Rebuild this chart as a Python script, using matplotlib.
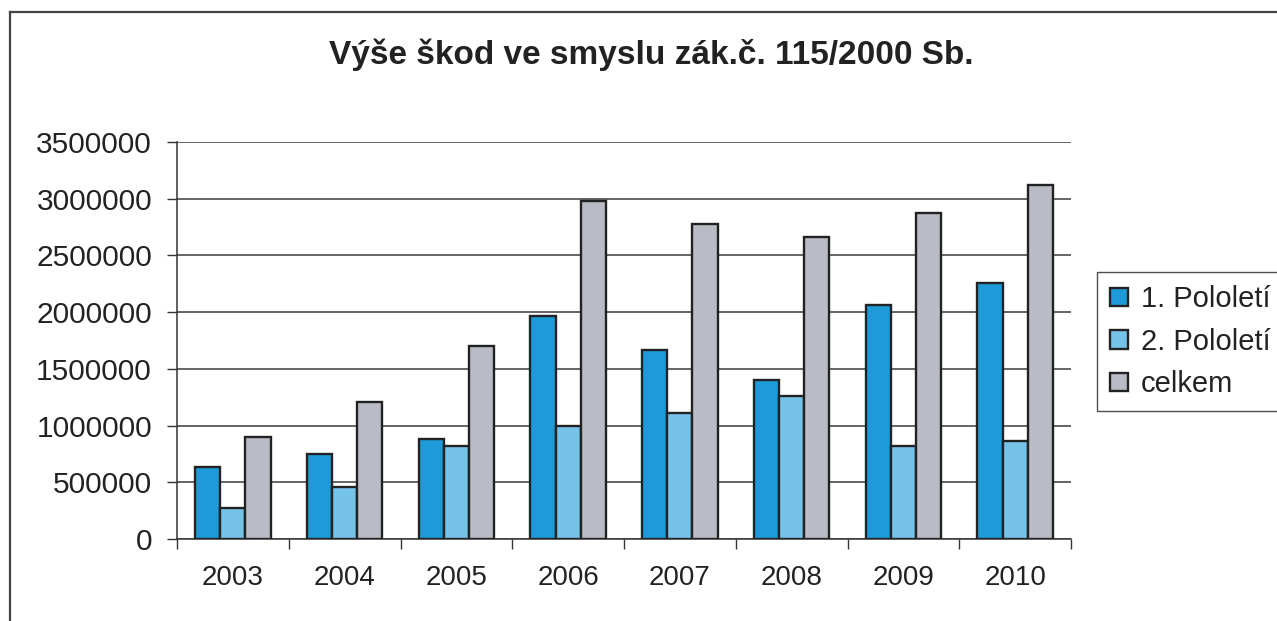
import matplotlib.pyplot as plt
import numpy as np
from matplotlib.lines import Line2D

years = ['2003', '2004', '2005', '2006', '2007', '2008', '2009', '2010']
first_half = [635000, 750000, 882000, 1969000, 1664000, 1400000, 2066000, 2257000]
second_half = [273000, 459000, 822000, 992000, 1108000, 1261000, 820000, 864000]
total = [902000, 1208000, 1705000, 2983000, 2778000, 2660000, 2872000, 3120000]
series_names = ['1. Pololetí', '2. Pololetí', 'celkem']

plt.rcParams['font.family'] = ['Liberation Sans', 'DejaVu Sans']

W, H = 1277, 621
fig = plt.figure(figsize=(W / 100, H / 100), dpi=100)
ax = fig.add_axes([177 / W, 1 - 539 / H, (1071 - 177) / W, (539 - 142) / H])

colors = ['#1c9bd8', '#75c3e9', '#b9bcc4']
x = np.arange(len(years)) + 0.5
bw = 0.225
for k, (vals, c, name) in enumerate(zip([first_half, second_half, total], colors, series_names)):
    ax.bar(x + (k - 1) * bw, vals, bw, color=c, edgecolor='#222222', linewidth=1.7,
           label=name, zorder=3)

ax.set_xlim(0, len(years))
ax.set_ylim(0, 3500000)
ax.set_yticks(np.arange(0, 3500001, 500000))
ax.set_yticklabels([str(v) for v in range(0, 3500001, 500000)])
ax.set_xticks(np.arange(len(years) + 1))
ax.set_xticklabels([])
ax.set_xticks(x, minor=True)
ax.set_xticklabels(years, minor=True)
ax.tick_params(axis='x', which='major', direction='out', length=7, width=1, color='#333333')
ax.tick_params(axis='x', which='minor', length=0, pad=19, labelsize=20, labelcolor='#222222')
ax.tick_params(axis='y', direction='out', length=7, width=1, color='#333333', pad=11,
               labelsize=21.5, labelcolor='#222222')

ax.grid(axis='y', color='#3a3a3a', linewidth=1.1, zorder=0)
ax.set_axisbelow(True)
for s in ['top', 'right']:
    ax.spines[s].set_visible(False)
for s in ['left', 'bottom']:
    ax.spines[s].set_color('#333333')
    ax.spines[s].set_linewidth(1.1)

fig.text(651 / W, 1 - 55 / H, 'Výše škod ve smyslu zák.č. 115/2000 Sb.', ha='center', va='center',
         fontsize=24, fontweight='bold', color='#222222')

leg = ax.legend(loc='upper left', bbox_to_anchor=(1097 / W, 1 - 272 / H), bbox_transform=fig.transFigure,
                frameon=True, fancybox=False, fontsize=21, handlelength=0.6, handleheight=0.6,
                handletextpad=0.45, labelspacing=0.5, borderpad=0.45, borderaxespad=0)
leg.get_frame().set_edgecolor('#222222')
leg.get_frame().set_linewidth(1.0)
for t in leg.get_texts():
    t.set_color('#222222')

# outer chart border (top and left visible)
fig.add_artist(Line2D([10 / W, 1], [1 - 12 / H, 1 - 12 / H], transform=fig.transFigure,
                      color='#444444', linewidth=1.6))
fig.add_artist(Line2D([10 / W, 10 / W], [0, 1 - 12 / H], transform=fig.transFigure,
                      color='#444444', linewidth=1.6))

fig.savefig('out.png', dpi=100)
